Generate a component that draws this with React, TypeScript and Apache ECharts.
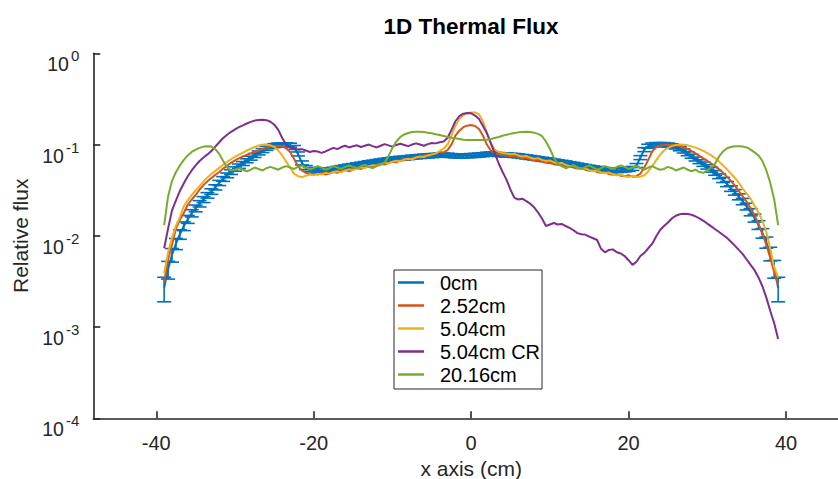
import React, { useEffect, useRef } from "react";
import * as echarts from "echarts";

// x grid of the simulation: -39 cm .. 39 cm every 0.5 cm
const X_START = -39;
const X_STEP = 0.5;

const seriesNames = ["0cm", "2.52cm", "5.04cm", "5.04cm CR", "20.16cm"];
const seriesColors = ["#0072BD", "#D95319", "#EDB120", "#7E2F8E", "#77AC30"];
const xTickValues = [-40, -20, 0, 20, 40];

const flux0cm = [
  0.0027, 0.0043, 0.0062, 0.0082, 0.0104, 0.0128, 0.0152, 0.0177, 0.02, 0.0225,
  0.025, 0.0278, 0.0306, 0.034, 0.038, 0.042, 0.046, 0.05, 0.054, 0.058,
  0.062, 0.0665, 0.071, 0.076, 0.081, 0.086, 0.091, 0.095, 0.0975, 0.099,
  0.0995, 0.0995, 0.0985, 0.093, 0.079, 0.063, 0.056, 0.0535, 0.053, 0.0525,
  0.052, 0.0522, 0.0528, 0.0538, 0.0548, 0.056, 0.057, 0.0582, 0.059, 0.06,
  0.061, 0.062, 0.0632, 0.0642, 0.0652, 0.0662, 0.0672, 0.0682, 0.069, 0.07,
  0.0708, 0.0712, 0.072, 0.0728, 0.0735, 0.074, 0.0748, 0.0752, 0.0758, 0.0762,
  0.0768, 0.077, 0.0765, 0.0758, 0.0752, 0.075, 0.0752, 0.0755, 0.0758, 0.0762,
  0.0768, 0.0775, 0.0785, 0.079, 0.0785, 0.0778, 0.0772, 0.077, 0.0765, 0.076,
  0.0752, 0.0742, 0.0732, 0.0722, 0.0712, 0.0702, 0.0692, 0.0682, 0.067, 0.066,
  0.065, 0.064, 0.063, 0.0618, 0.0608, 0.0596, 0.0585, 0.0575, 0.0565, 0.0555,
  0.0548, 0.054, 0.0532, 0.0526, 0.0522, 0.052, 0.0522, 0.0528, 0.0535, 0.0548,
  0.059, 0.072, 0.088, 0.096, 0.099, 0.1, 0.1, 0.1, 0.099, 0.097,
  0.094, 0.09, 0.085, 0.0795, 0.0745, 0.0695, 0.065, 0.061, 0.057, 0.053,
  0.049, 0.045, 0.041, 0.037, 0.033, 0.03, 0.0268, 0.0238, 0.021, 0.0182,
  0.0157, 0.0132, 0.0107, 0.0085, 0.0064, 0.0044, 0.0027,
];

// relative error of the 0cm tally
const flux0cmRelErr = [
  0.3, 0.22, 0.17, 0.14, 0.12, 0.11, 0.1, 0.09, 0.085, 0.08,
  0.075, 0.07, 0.07, 0.065, 0.065, 0.06, 0.06, 0.06, 0.055, 0.055,
  0.05, 0.05, 0.05, 0.05, 0.05, 0.05, 0.05, 0.05, 0.05, 0.05,
  0.05, 0.05, 0.05, 0.05, 0.05, 0.05, 0.05, 0.05, 0.05, 0.05,
  0.05, 0.05, 0.05, 0.05, 0.05, 0.05, 0.05, 0.05, 0.05, 0.05,
  0.05, 0.05, 0.05, 0.05, 0.05, 0.05, 0.05, 0.05, 0.05, 0.05,
  0.05, 0.05, 0.05, 0.05, 0.05, 0.05, 0.05, 0.05, 0.05, 0.05,
  0.05, 0.05, 0.05, 0.05, 0.05, 0.05, 0.05, 0.05, 0.05, 0.05,
  0.05, 0.05, 0.05, 0.05, 0.05, 0.05, 0.05, 0.05, 0.05, 0.05,
  0.05, 0.05, 0.05, 0.05, 0.05, 0.05, 0.05, 0.05, 0.05, 0.05,
  0.05, 0.05, 0.05, 0.05, 0.05, 0.05, 0.05, 0.05, 0.05, 0.05,
  0.05, 0.05, 0.05, 0.05, 0.05, 0.05, 0.05, 0.05, 0.05, 0.05,
  0.05, 0.05, 0.05, 0.05, 0.05, 0.05, 0.05, 0.05, 0.05, 0.05,
  0.05, 0.05, 0.05, 0.05, 0.05, 0.05, 0.05, 0.055, 0.055, 0.06,
  0.06, 0.06, 0.065, 0.065, 0.07, 0.07, 0.075, 0.08, 0.085, 0.09,
  0.1, 0.11, 0.12, 0.14, 0.17, 0.22, 0.3,
];

const flux252cm = [
  0.0031, 0.0055, 0.008, 0.012, 0.015, 0.0178, 0.0219, 0.025, 0.028, 0.032,
  0.036, 0.0395, 0.043, 0.0465, 0.05, 0.0545, 0.059, 0.063, 0.067, 0.0705,
  0.074, 0.077, 0.08, 0.083, 0.086, 0.0895, 0.0925, 0.095, 0.0965, 0.0965,
  0.095, 0.091, 0.083, 0.07, 0.058, 0.052, 0.049, 0.048, 0.0475, 0.047,
  0.0485, 0.047, 0.048, 0.05, 0.049, 0.051, 0.0525, 0.051, 0.0535, 0.055,
  0.054, 0.0565, 0.058, 0.057, 0.06, 0.0615, 0.0605, 0.063, 0.065, 0.064,
  0.067, 0.069, 0.068, 0.071, 0.073, 0.072, 0.076, 0.0775, 0.077, 0.08,
  0.083, 0.082, 0.087, 0.1, 0.125, 0.142, 0.155, 0.161, 0.164, 0.16,
  0.148, 0.125, 0.1, 0.086, 0.08, 0.079, 0.077, 0.076, 0.0745, 0.075,
  0.073, 0.071, 0.0715, 0.069, 0.067, 0.068, 0.065, 0.0635, 0.064, 0.061,
  0.06, 0.059, 0.0575, 0.058, 0.056, 0.0545, 0.0555, 0.053, 0.0515, 0.0525,
  0.05, 0.049, 0.05, 0.0475, 0.0465, 0.0475, 0.0455, 0.045, 0.046, 0.0445,
  0.045, 0.048, 0.056, 0.068, 0.084, 0.093, 0.0975, 0.099, 0.0995, 0.099,
  0.0985, 0.0965, 0.0935, 0.0895, 0.085, 0.08, 0.075, 0.0705, 0.0665, 0.062,
  0.058, 0.0535, 0.049, 0.0445, 0.04, 0.0355, 0.031, 0.027, 0.0235, 0.02,
  0.0168, 0.0135, 0.0105, 0.008, 0.0057, 0.004, 0.0029,
];

const flux504cm = [
  0.0039, 0.0065, 0.0095, 0.0128, 0.016, 0.021, 0.0245, 0.028, 0.0315, 0.035,
  0.0395, 0.0435, 0.0475, 0.0515, 0.0555, 0.06, 0.0645, 0.069, 0.0735, 0.0775,
  0.0815, 0.086, 0.09, 0.094, 0.0975, 0.0995, 0.1, 0.098, 0.094, 0.086,
  0.076, 0.065, 0.056, 0.048, 0.045, 0.044, 0.0455, 0.047, 0.046, 0.048,
  0.047, 0.049, 0.048, 0.05, 0.051, 0.0495, 0.052, 0.0535, 0.0525, 0.055,
  0.0565, 0.055, 0.058, 0.0595, 0.0585, 0.061, 0.063, 0.062, 0.065, 0.0665,
  0.0655, 0.0685, 0.07, 0.069, 0.072, 0.074, 0.073, 0.076, 0.078, 0.08,
  0.085, 0.09, 0.1, 0.125, 0.16, 0.19, 0.21, 0.22, 0.225, 0.225,
  0.215, 0.18, 0.135, 0.105, 0.088, 0.083, 0.081, 0.08, 0.0785, 0.079,
  0.076, 0.074, 0.075, 0.072, 0.07, 0.071, 0.068, 0.066, 0.067, 0.064,
  0.062, 0.063, 0.06, 0.058, 0.059, 0.056, 0.054, 0.055, 0.0525, 0.051,
  0.052, 0.0495, 0.0485, 0.0495, 0.047, 0.046, 0.047, 0.045, 0.044, 0.0455,
  0.044, 0.0445, 0.046, 0.051, 0.058, 0.067, 0.077, 0.086, 0.092, 0.096,
  0.099, 0.1, 0.0995, 0.098, 0.0955, 0.0925, 0.089, 0.085, 0.0805, 0.076,
  0.071, 0.065, 0.059, 0.0535, 0.048, 0.043, 0.038, 0.033, 0.029, 0.0255,
  0.0215, 0.018, 0.0145, 0.011, 0.0072, 0.0045, 0.0035,
];

const flux504cmCR = [
  0.0073, 0.012, 0.019, 0.0245, 0.031, 0.0376, 0.045, 0.052, 0.059, 0.066,
  0.072, 0.078, 0.085, 0.095, 0.106, 0.118, 0.128, 0.138, 0.147, 0.155,
  0.162, 0.17, 0.177, 0.183, 0.186, 0.187, 0.185, 0.178, 0.165, 0.145,
  0.118, 0.1, 0.092, 0.09, 0.088, 0.089, 0.086, 0.083, 0.085, 0.084,
  0.081, 0.084, 0.088, 0.092, 0.089, 0.094, 0.097, 0.093, 0.096, 0.098,
  0.094, 0.097, 0.1, 0.096, 0.093, 0.097, 0.101, 0.098, 0.095, 0.099,
  0.102, 0.099, 0.096, 0.1, 0.103, 0.1, 0.097, 0.101, 0.104, 0.103,
  0.106, 0.108, 0.118, 0.145, 0.18, 0.205, 0.218, 0.222, 0.22, 0.208,
  0.19, 0.16, 0.133, 0.103, 0.08, 0.062, 0.05, 0.041, 0.032, 0.026,
  0.025, 0.0255, 0.024, 0.0225, 0.0205, 0.018, 0.0155, 0.0128, 0.0133, 0.0138,
  0.0133, 0.0135, 0.0128, 0.0122, 0.0115, 0.0107, 0.0104, 0.0103, 0.0098, 0.0094,
  0.009, 0.0072, 0.0066, 0.007, 0.0071, 0.0066, 0.0064, 0.006, 0.0054, 0.0048,
  0.0052, 0.006, 0.0065, 0.0073, 0.0082, 0.0098, 0.0116, 0.0128, 0.014, 0.0155,
  0.0166, 0.0172, 0.0174, 0.0173, 0.017, 0.0163, 0.0155, 0.0146, 0.0136, 0.0127,
  0.0118, 0.011, 0.0102, 0.0095, 0.0086, 0.0078, 0.007, 0.0063, 0.0055, 0.0048,
  0.0042, 0.0035, 0.0028, 0.0021, 0.0015, 0.0011, 0.00074,
];

const flux2016cm = [
  0.0131, 0.027, 0.04, 0.05, 0.059, 0.068, 0.076, 0.083, 0.088, 0.092,
  0.095, 0.096, 0.095, 0.089, 0.079, 0.066, 0.056, 0.052, 0.053, 0.055,
  0.053, 0.051, 0.053, 0.056, 0.054, 0.052, 0.055, 0.057, 0.055, 0.053,
  0.056, 0.058, 0.056, 0.054, 0.057, 0.059, 0.056, 0.054, 0.055, 0.058,
  0.056, 0.053, 0.055, 0.058, 0.056, 0.054, 0.057, 0.059, 0.057, 0.055,
  0.058, 0.06, 0.057, 0.055, 0.058, 0.06, 0.063, 0.075, 0.092, 0.108,
  0.121, 0.129, 0.134, 0.137, 0.138, 0.138, 0.137, 0.135, 0.133, 0.13,
  0.127, 0.124, 0.121, 0.119, 0.117, 0.115, 0.113, 0.112, 0.112, 0.112,
  0.112, 0.112, 0.113, 0.115, 0.118, 0.121, 0.125, 0.128, 0.131, 0.134,
  0.136, 0.137, 0.138, 0.137, 0.135, 0.131, 0.124, 0.108, 0.09, 0.072,
  0.062, 0.058, 0.055, 0.057, 0.059, 0.056, 0.054, 0.057, 0.059, 0.056,
  0.053, 0.055, 0.058, 0.056, 0.054, 0.057, 0.059, 0.057, 0.054, 0.056,
  0.058, 0.055, 0.053, 0.056, 0.058, 0.055, 0.053, 0.054, 0.057, 0.055,
  0.052, 0.054, 0.056, 0.053, 0.051, 0.053, 0.05, 0.049, 0.052, 0.056,
  0.062, 0.074, 0.084, 0.091, 0.094, 0.096, 0.096, 0.095, 0.093, 0.088,
  0.082, 0.076, 0.066, 0.052, 0.038, 0.025, 0.0131,
];

const lineSeriesData = [flux252cm, flux504cm, flux504cmCR, flux2016cm];

const FONT = "'Liberation Sans', Arial, Helvetica, sans-serif";

export default function App() {
  const ref = useRef<HTMLDivElement>(null);

  useEffect(() => {
    if (!ref.current) return;
    const chart = echarts.init(ref.current, undefined, { renderer: "svg" });
    const xAt = (i: number) => X_START + i * X_STEP;

    const errData = flux0cm.map((v, i) => [xAt(i), v, v * flux0cmRelErr[i]]);
    const blueLine = flux0cm.map((v, i) => [xAt(i), v]);

    const series: any[] = [
      {
        name: seriesNames[0],
        type: "custom",
        data: errData,
        encode: { x: 0, y: 1 },
        renderItem: (params: any, api: any) => {
          const x = api.value(0);
          const y = api.value(1);
          const e = api.value(2);
          const top = api.coord([x, y + e]);
          const bot = api.coord([x, y - e]);
          const w = 7;
          const style = { stroke: seriesColors[0], lineWidth: 1.6, fill: null };
          return {
            type: "group",
            children: [
              { type: "line", shape: { x1: top[0], y1: top[1], x2: bot[0], y2: bot[1] }, style },
              { type: "line", shape: { x1: top[0] - w, y1: top[1], x2: top[0] + w, y2: top[1] }, style },
              { type: "line", shape: { x1: bot[0] - w, y1: bot[1], x2: bot[0] + w, y2: bot[1] }, style },
            ],
          };
        },
        itemStyle: { color: seriesColors[0] },
      },
      {
        name: seriesNames[0],
        type: "line",
        data: blueLine,
        showSymbol: false,
        lineStyle: { color: seriesColors[0], width: 2 },
        itemStyle: { color: seriesColors[0] },
      },
    ];
    lineSeriesData.forEach((arr, k) => {
      series.push({
        name: seriesNames[k + 1],
        type: "line",
        data: arr.map((v, i) => [xAt(i), v]),
        showSymbol: false,
        lineStyle: { color: seriesColors[k + 1], width: 2 },
        itemStyle: { color: seriesColors[k + 1] },
      });
    });

    chart.setOption({
      animation: false,
      textStyle: { fontFamily: FONT },
      title: {
        text: "1D Thermal Flux",
        left: 471,
        top: 15,
        textAlign: "center",
        padding: 0,
        textStyle: { fontSize: 22.5, fontWeight: "bold", color: "#000", fontFamily: FONT },
      },
      legend: {
        orient: "vertical",
        left: 394,
        top: 270,
        padding: [1, 2, 3, 4],
        itemGap: 0,
        itemWidth: 26,
        itemHeight: 2.5,
        icon: "rect",
        borderColor: "#262626",
        borderWidth: 1,
        backgroundColor: "#fff",
        data: seriesNames,
        textStyle: { fontSize: 20, color: "#000", lineHeight: 23, padding: [0, 0, 0, 11], fontFamily: FONT },
      },
      grid: { left: 93.3, top: 53.3, right: 11, bottom: 60.7, containLabel: false, outerBoundsMode: "none" },
      xAxis: {
        type: "value",
        min: -48,
        max: 48,
        name: "x axis (cm)",
        nameLocation: "middle",
        nameGap: 37,
        nameTextStyle: { fontSize: 21, lineHeight: 21, color: "#262626", fontFamily: FONT },
        axisLine: { show: true, onZero: false, lineStyle: { color: "#262626", width: 1.6 } },
        axisTick: { show: true, inside: true, length: 7, customValues: xTickValues, lineStyle: { color: "#262626", width: 1.6 } },
        axisLabel: { customValues: xTickValues, margin: 15, fontSize: 20, color: "#262626", fontFamily: FONT },
        splitLine: { show: false },
      },
      yAxis: {
        type: "log",
        logBase: 10,
        min: 0.0001,
        max: 1,
        name: "Relative flux",
        nameLocation: "middle",
        nameGap: 61,
        nameRotate: 90,
        nameTextStyle: { fontSize: 21, color: "#262626", fontFamily: FONT },
        axisLine: { show: true, onZero: false, lineStyle: { color: "#262626", width: 1.6 } },
        axisTick: { show: true, inside: true, length: 7, lineStyle: { color: "#262626", width: 1.6 } },
        minorTick: { show: false },
        splitLine: { show: false },
        axisLabel: {
          margin: 14,
          color: "#262626",
          fontFamily: FONT,
          formatter: (v: number) => `{b|10}{s|${Math.round(Math.log10(v))}}`,
          padding: [16, 0, 0, 0],
          rich: {
            b: { fontSize: 19.5, color: "#262626", fontFamily: FONT, verticalAlign: "bottom" },
            s: { fontSize: 15, color: "#262626", fontFamily: FONT, verticalAlign: "bottom", padding: [0, 0, 11, 2] },
          },
        },
      },
      series,
    });
    return () => chart.dispose();
  }, []);

  return (
    <div style={{ position: "absolute", left: 0, top: 0, width: 838, height: 479, overflow: "hidden", background: "#fff" }}>
      <div ref={ref} style={{ width: 860, height: 479 }} />
    </div>
  );
}
